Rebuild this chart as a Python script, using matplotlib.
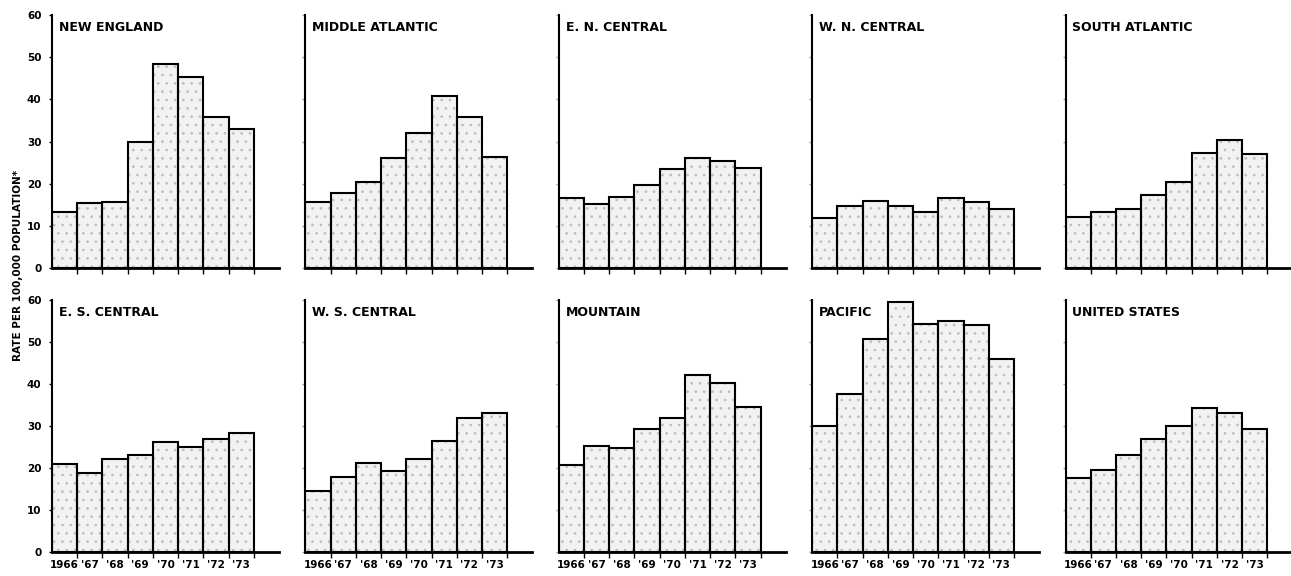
import matplotlib
matplotlib.use("Agg")
import matplotlib.pyplot as plt

years = ["1966", "'67", "'68", "'69", "'70", "'71", "'72", "'73"]
regions = ["NEW ENGLAND", "MIDDLE ATLANTIC", "E. N. CENTRAL", "W. N. CENTRAL", "SOUTH ATLANTIC",
           "E. S. CENTRAL", "W. S. CENTRAL", "MOUNTAIN", "PACIFIC", "UNITED STATES"]

new_england = [13.2, 15.3, 15.7, 29.9, 48.4, 45.2, 35.8, 32.9]
middle_atlantic = [15.7, 17.9, 20.3, 26.2, 31.9, 40.8, 35.8, 26.3]
en_central = [16.7, 15.1, 16.9, 19.6, 23.4, 26.2, 25.3, 23.6]
wn_central = [11.9, 14.7, 15.9, 14.7, 13.2, 16.5, 15.6, 13.9]
south_atlantic = [12.0, 13.2, 14.1, 17.4, 20.4, 27.3, 30.4, 27.0]
es_central = [20.9, 18.9, 22.2, 23.2, 26.1, 25.1, 26.9, 28.4]
ws_central = [14.5, 17.8, 21.2, 19.2, 22.2, 26.4, 31.9, 33.1]
mountain = [20.8, 25.2, 24.7, 29.2, 31.9, 42.2, 40.2, 34.6]
pacific = [30.0, 37.7, 50.8, 59.6, 54.2, 55.1, 54.0, 45.9]
united_states = [17.6, 19.6, 23.0, 27.0, 29.9, 34.3, 33.2, 29.4]

series = [new_england, middle_atlantic, en_central, wn_central, south_atlantic,
          es_central, ws_central, mountain, pacific, united_states]

yticks = [0, 10, 20, 30, 40, 50, 60]

plt.rcParams['font.family'] = ['DejaVu Sans']
plt.rcParams['hatch.linewidth'] = 0.7

W, H = 1291, 576
fig = plt.figure(figsize=(W / 100, H / 100), dpi=100)

left0 = 52 / W
pw = 227 / W
step = 253.4 / W
rows = [(1 - 268 / H, 253 / H), (1 - 552 / H, 252 / H)]

for i, (name, vals) in enumerate(zip(regions, series)):
    r, c = divmod(i, 5)
    b, h = rows[r]
    ax = fig.add_axes([left0 + c * step, b, pw, h])
    x = list(range(len(vals)))
    # stippled fill
    ax.bar(x, vals, width=1.0, align='edge', facecolor='#f2f2f2',
           edgecolor='#bdbdbd', linewidth=0, hatch='..')
    # outline
    ax.bar(x, vals, width=1.0, align='edge', facecolor='none',
           edgecolor='black', linewidth=1.5)
    ax.set_xlim(0, 9)
    ax.set_ylim(0, 60)
    for s in ['top', 'right']:
        ax.spines[s].set_visible(False)
    ax.spines['left'].set_linewidth(1.5)
    ax.spines['bottom'].set_linewidth(2.0)
    ax.set_yticks(yticks)
    ax.tick_params(axis='y', length=2.5, width=1.0, direction='out', pad=5)
    if c == 0:
        ax.set_yticklabels([str(t) for t in yticks], fontsize=7.5, fontweight='bold')
    else:
        ax.set_yticklabels([])
        ax.tick_params(axis='y', colors='#999999')
    ax.set_xticks([k + 1 for k in x])
    ax.set_xticklabels([])
    ax.tick_params(axis='x', which='major', length=4, width=1.0, direction='out')
    ax.set_xticks([k + 0.5 for k in x], minor=True)
    if r == 1:
        ax.set_xticklabels(years, minor=True, fontsize=7.5, fontweight='bold')
    ax.tick_params(axis='x', which='minor', length=0, pad=6)
    ax.text(0.03, 0.975, name, transform=ax.transAxes, ha='left', va='top',
            fontsize=9, fontweight='bold')

fig.text(18 / W, 1 - 265 / H, "RATE PER 100,000 POPULATION*", rotation=90,
         ha='center', va='center', fontsize=7.5, fontweight='bold')

fig.savefig("out.png", dpi=100)
